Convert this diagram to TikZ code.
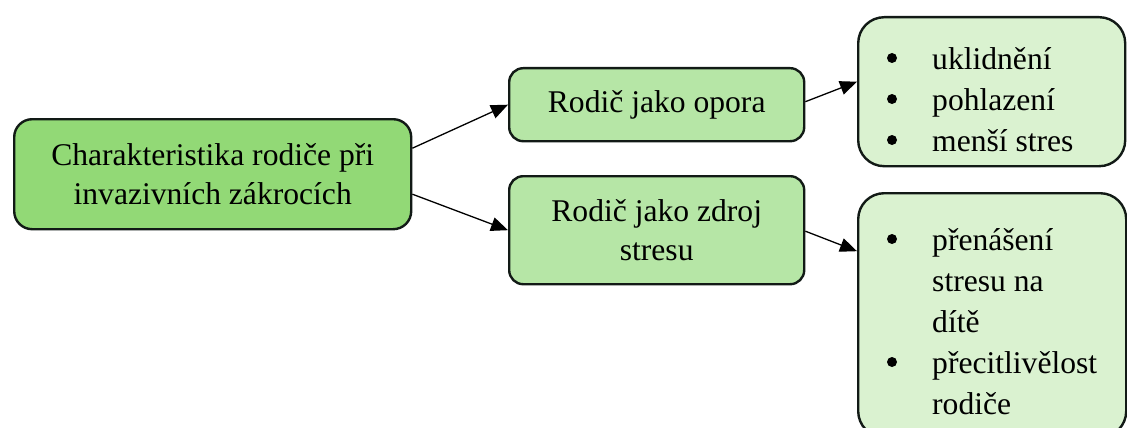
\documentclass[tikz,border=0pt]{standalone}
\usepackage{fontspec}
\setmainfont{Liberation Serif}
\usetikzlibrary{arrows.meta}

\definecolor{rootgreen}{RGB}{146,217,118}
\definecolor{midgreen}{RGB}{182,230,166}
\definecolor{leafgreen}{RGB}{218,242,208}
\definecolor{boxedge}{RGB}{18,26,22}

\newcommand\diagfont{\fontsize{31.6}{39}\selectfont}
\newcommand\listfont{\fontsize{31.6}{41}\selectfont}

\begin{document}
\begin{tikzpicture}[x=1pt,y=-1pt,
  box/.style={draw=boxedge, line width=2.4pt, rounded corners=#1,
    inner sep=0pt, anchor=north west, align=center, font=\diagfont},
  listtext/.style={inner sep=0pt, anchor=base west, font=\listfont},
  dot/.style={fill=black},
  conn/.style={line width=1.3pt, -{Triangle[length=17pt,width=14pt]}}]

\useasboundingbox (0,0) rectangle (1127,428);

% boxes
\node[box=18pt, fill=rootgreen, minimum width=397pt, minimum height=110pt]
  (root) at (13,118) {Charakteristika rodiče při\\invazivních zákrocích};
\node[box=14pt, fill=midgreen, minimum width=295pt, minimum height=73pt]
  (opora) at (508,67) {Rodič jako opora};
\node[box=14pt, fill=midgreen, minimum width=295pt, minimum height=108pt]
  (zdroj) at (508,175) {Rodič jako zdroj\\stresu};
\node[box=26pt, fill=leafgreen, minimum width=267pt, minimum height=149pt]
  (klid) at (857,16) {};
\node[box=26pt, fill=leafgreen, minimum width=268pt, minimum height=244pt]
  (stres) at (857,192) {};

% bullet lists
\node[listtext] (klidlist) at (932,70)
  {\begin{tabular}[t]{@{}l@{}}
    uklidnění\\
    pohlazení\\
    menší stres
  \end{tabular}};
\node[listtext] (streslist) at (932,250)
  {\begin{tabular}[t]{@{}l@{}}
    přenášení\\
    stresu na\\
    dítě\\
    přecitlivělost\\
    rodiče
  \end{tabular}};

% bullet marks
\foreach \y in {58,99,140} \fill[dot] (892,\y) circle (5pt);
\foreach \y in {239,362} \fill[dot] (892,\y) circle (5pt);

% connectors
\draw[conn] ([yshift=26pt]root.east) -- (opora.west);
\draw[conn] ([yshift=-20pt]root.east) -- (zdroj.west);
\draw[conn] ([yshift=3pt]opora.east) -- ([yshift=10pt]klid.west);
\draw[conn] ([yshift=-1pt]zdroj.east) -- ([yshift=64pt]stres.west);
\end{tikzpicture}
\end{document}
